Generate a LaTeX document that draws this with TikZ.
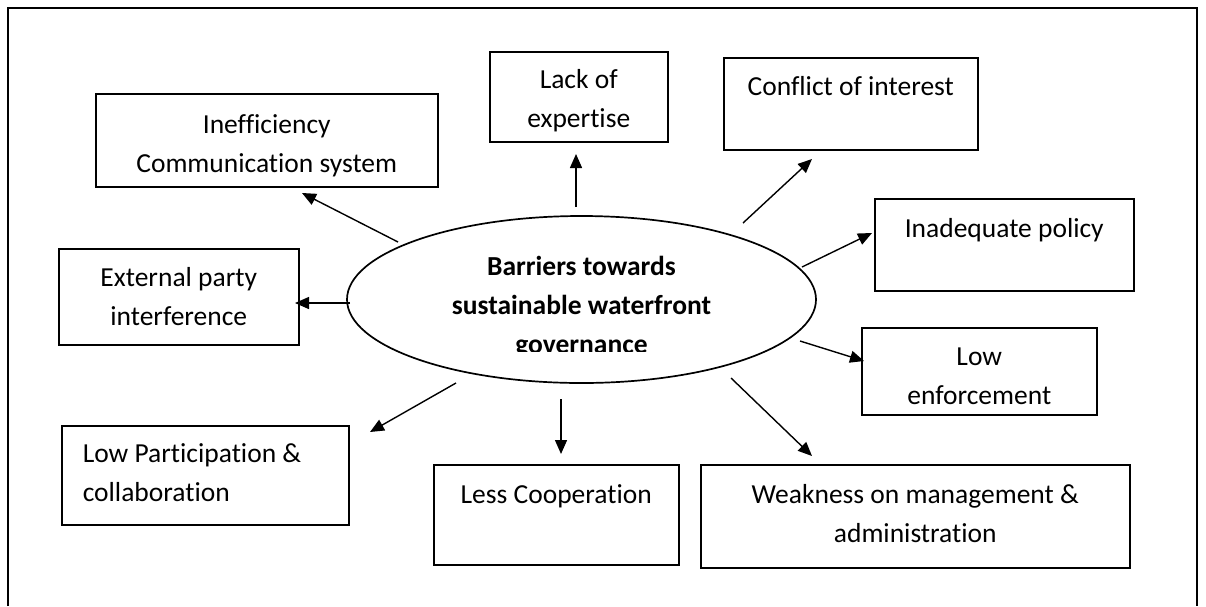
\documentclass[tikz,border=0pt]{standalone}
\usepackage{fontspec}
\setmainfont{Carlito}[Ligatures=NoCommon]
\usetikzlibrary{arrows.meta,shapes.geometric}

% text size used in every box
\newcommand\boxfont{\fontsize{27.5pt}{39pt}\selectfont}
% top-aligned, centred text in a box of width #1, height #2, first baseline #3 below the top
\newcommand\cbox[4]{\parbox[c][#2][t]{#1}{\centering\rule{0pt}{#3}#4}}
% same, flush left with a left indent #4
\newcommand\lbox[5]{\parbox[c][#2][t]{#1}{\raggedright\leftskip=#4\rule{0pt}{#3}#5}}

\tikzset{
  box/.style={draw, line width=1.5pt, inner sep=0pt, anchor=north west, font=\boxfont},
  core/.style={draw, ellipse, line width=1.7pt, inner sep=0pt},
  arr/.style={line width=1.4pt, -{Triangle[length=14pt,width=12pt]}},
  frame/.style={line width=1.6pt}
}

\begin{document}
\begin{tikzpicture}[x=1pt,y=-1pt]
\useasboundingbox (0,0) rectangle (1206,606);
\fill[white] (0,0) rectangle (1206,606);

% open frame around the figure
\draw[frame] (8,606) -- (8,8) -- (1197,8) -- (1197,606);

% central ellipse
\node[core, minimum width=469pt, minimum height=167pt] (core) at (581.5,299.5) {};
\begin{scope}
  \clip (330,220) rectangle (840,351);
  \node[inner sep=0pt, anchor=north, font=\boxfont\bfseries] (coretext) at (581.5,236)
    {\parbox[t]{420pt}{\centering\rule{0pt}{39pt}Barriers towards\\sustainable waterfront\\governance}};
\end{scope}

% barrier boxes
\node[box] (ineff) at (95,93)  {\cbox{342pt}{93pt}{40pt}{Inefficiency\\Communication system}};
\node[box] (lack)  at (489,51) {\cbox{178pt}{90pt}{37pt}{Lack of\\expertise}};
\node[box] (confl) at (723,57) {\cbox{254pt}{92pt}{38pt}{Conflict of interest}};
\node[box] (policy) at (874,198) {\cbox{259pt}{92pt}{39pt}{Inadequate policy}};
\node[box] (extern) at (58,248) {\cbox{240pt}{96pt}{38pt}{External party\\interference}};
\node[box] (enforce) at (861,327) {\cbox{235pt}{87pt}{38pt}{Low\\enforcement}};
\node[box] (partic) at (61,425) {\lbox{287pt}{99pt}{37pt}{21pt}{Low Participation \&\\collaboration}};
\node[box] (coop) at (433,464) {\cbox{245pt}{100pt}{39pt}{Less Cooperation}};
\node[box] (manage) at (700,464) {\cbox{429pt}{103pt}{39pt}{Weakness on management \&\\administration}};

% arrow end points
\coordinate (s1) at (398,242); \coordinate (e1) at (302,193);
\coordinate (s2) at (576,207); \coordinate (e2) at (576,154);
\coordinate (s3) at (743,223); \coordinate (e3) at (812,159);
\coordinate (s4) at (802,267); \coordinate (e4) at (872,233);
\coordinate (s5) at (350,303); \coordinate (e5) at (295,303);
\coordinate (s6) at (800,341); \coordinate (e6) at (864,361);
\coordinate (s7) at (456,383); \coordinate (e7) at (370,432);
\coordinate (s8) at (561,399); \coordinate (e8) at (561,454);
\coordinate (s9) at (731,378); \coordinate (e9) at (812,456);

\foreach \i in {1,...,9} \draw[arr] (s\i) -- (e\i);
\end{tikzpicture}
\end{document}
